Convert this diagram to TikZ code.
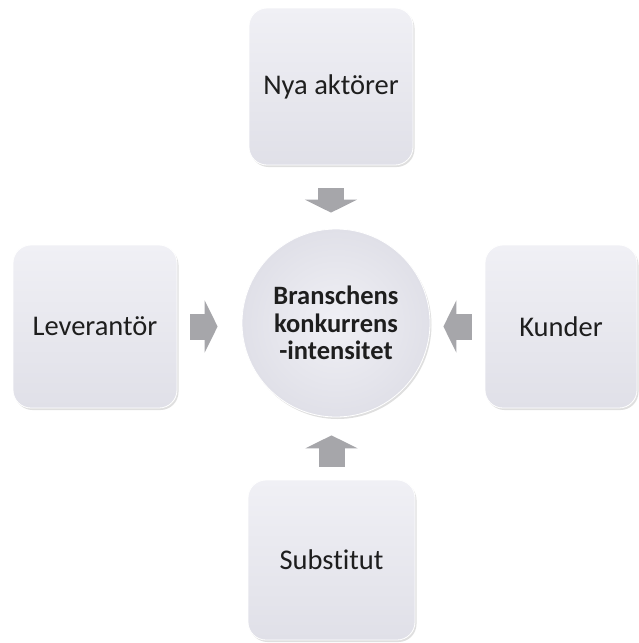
\documentclass[tikz,border=0pt]{standalone}
\usepackage{fontspec}
\setmainfont[Ligatures=NoCommon]{Carlito}
\usetikzlibrary{arrows.meta,shadows,shapes.geometric}
\definecolor{boxtop}{RGB}{240,240,245}
\definecolor{boxbot}{RGB}{224,224,232}
\definecolor{arrowgray}{RGB}{166,166,170}
\definecolor{txt}{RGB}{30,30,30}
\tikzset{
  force/.style={rectangle, rounded corners=18pt, top color=boxtop, bottom color=boxbot,
    draw=white, line width=0.8pt, text=txt, font=\fontsize{28.5}{30}\selectfont,
    drop shadow={shadow xshift=1.5pt, shadow yshift=-2pt, opacity=0.25, fill=gray}},
  hub/.style={circle, inner color=boxtop, outer color=boxbot, draw=white, line width=0.8pt,
    text=txt, align=center, minimum size=188pt, inner sep=0pt,
    font=\fontsize{26.5}{27.5}\selectfont\bfseries,
    drop shadow={shadow xshift=1.5pt, shadow yshift=-2pt, opacity=0.25, fill=gray}},
  blockarrow/.style={draw=arrowgray, line width=26pt, line cap=butt,
    -{Triangle[length=13pt,width=52pt]}}
}
\begin{document}
\begin{tikzpicture}[x=1pt,y=-1pt]
\useasboundingbox[fill=white] (0,0) rectangle (639,643);
\node[force, minimum width=164pt, minimum height=157pt] (top) at (331,86.5) {Nya aktörer};
\node[force, minimum width=164pt, minimum height=163pt] (left) at (95,326.5) {Leverantör};
\node[force, minimum width=152pt, minimum height=163pt] (right) at (561,326.5) {Kunder};
\node[force, minimum width=167pt, minimum height=160pt] (bottom) at (331.5,560) {Substitut};
\node[hub] (c) at (336,323) {Branschens\\konkurrens\\-intensitet};
\draw[blockarrow, shorten <=23pt, shorten >=16pt] (top.south) -- (top.south |- c.north);
\draw[blockarrow, shorten <=13pt, shorten >=18pt] (bottom.north) -- (bottom.north |- c.south);
\draw[blockarrow, shorten <=13pt, shorten >=24pt] (left.east) -- (left.east -| c.west);
\draw[blockarrow, shorten <=13pt, shorten >=13pt] (right.west) -- (right.west -| c.east);
\end{tikzpicture}
\end{document}
